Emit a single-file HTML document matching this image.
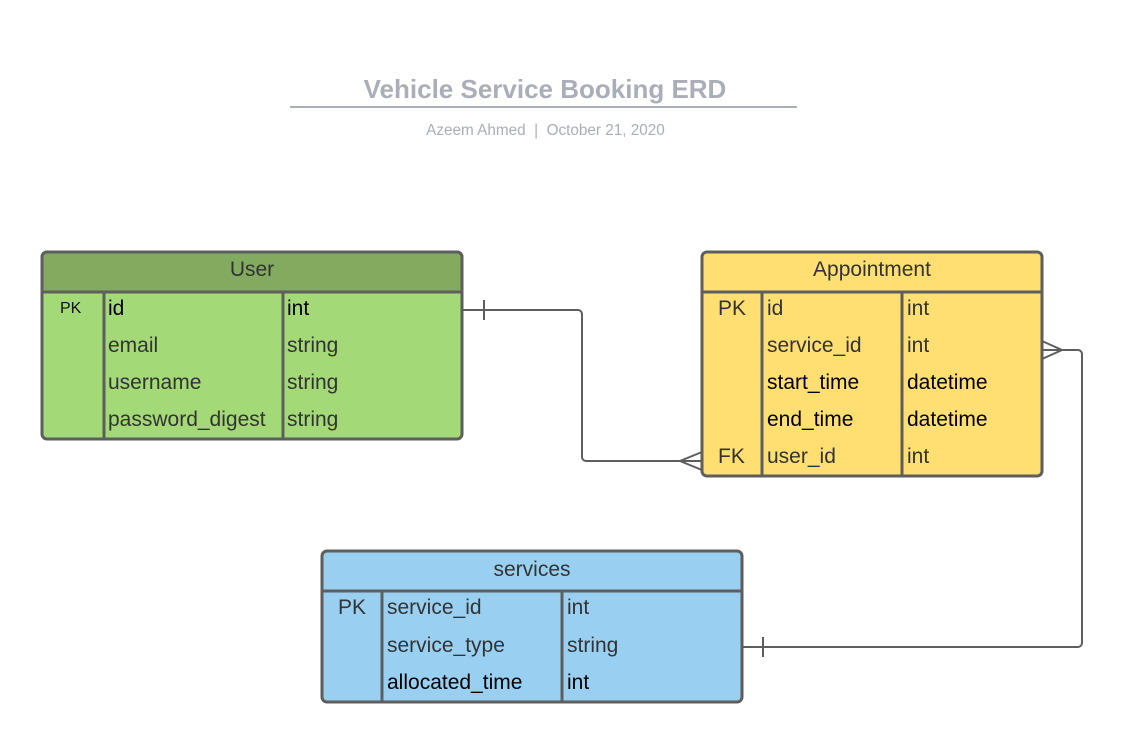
<!DOCTYPE html>
<html><head><meta charset="utf-8"><style>
body{margin:0;width:1128px;height:738px;background:#fff;position:relative;font-family:"Liberation Sans",sans-serif;overflow:hidden}
.t{position:absolute;white-space:nowrap;color:#333;font-size:21px;line-height:21px}
</style></head><body>
<div class="t" style="left:0;width:1090px;text-align:center;top:75px;font-size:26px;line-height:28px;font-weight:bold;color:#a9aeb8">Vehicle Service Booking ERD</div>
<div style="position:absolute;left:290px;top:106px;width:507px;height:2px;background:#a9aeb8"></div>
<div class="t" style="left:0;width:1091px;text-align:center;top:122px;font-size:15.3px;line-height:17px;color:#a9aeb8">Azeem Ahmed &nbsp;|&nbsp; October 21, 2020</div>
<svg width="1128" height="738" style="position:absolute;left:0;top:0">
<g stroke="#5e5e5e" stroke-width="3">
<rect x="42" y="252" width="420" height="187" rx="5" fill="#a3d977"/>
<path d="M42 292V257a5 5 0 0 1 5-5h410a5 5 0 0 1 5 5v35z" fill="#82ab60"/>
<line x1="104" y1="292" x2="104" y2="439"/><line x1="283" y1="292" x2="283" y2="439"/>
<rect x="702" y="252" width="340" height="224" rx="5" fill="#ffdf71"/>
<line x1="702" y1="292" x2="1042" y2="292"/>
<line x1="762" y1="292" x2="762" y2="476"/><line x1="902" y1="292" x2="902" y2="476"/>
<rect x="322" y="551" width="420" height="151" rx="5" fill="#99d0f2"/>
<line x1="322" y1="591" x2="742" y2="591"/>
<line x1="382" y1="591" x2="382" y2="702"/><line x1="562" y1="591" x2="562" y2="702"/>
</g>
<g stroke="#5e5e5e" stroke-width="2" fill="none">
<path d="M463 310H578a4 4 0 0 1 4 4V457a4 4 0 0 0 4 4H701"/>
<line x1="484" y1="300" x2="484" y2="320"/>
<path d="M702 452L680 461L702 470"/>
<path d="M1043 350H1078a4 4 0 0 1 4 4V643a4 4 0 0 1-4 4H743"/>
<line x1="763" y1="637" x2="763" y2="657"/>
<path d="M1042 341L1062 350L1042 359"/>
</g>
</svg>
<div class="t" style="left:42px;width:420px;text-align:center;top:259px">User</div>
<div class="t" style="left:60px;top:300px;font-size:16px;line-height:18px;color:#111">PK</div>
<div class="t" style="left:108px;top:298px;color:#000">id</div><div class="t" style="left:287px;top:298px;color:#000">int</div>
<div class="t" style="left:108px;top:335px">email</div><div class="t" style="left:287px;top:335px">string</div>
<div class="t" style="left:108px;top:372px">username</div><div class="t" style="left:287px;top:372px">string</div>
<div class="t" style="left:108px;top:409px">password_digest</div><div class="t" style="left:287px;top:409px">string</div>

<div class="t" style="left:702px;width:340px;text-align:center;top:259px">Appointment</div>
<div class="t" style="left:718px;top:298px">PK</div>
<div class="t" style="left:767px;top:298px">id</div><div class="t" style="left:907px;top:298px">int</div>
<div class="t" style="left:767px;top:335px">service_id</div><div class="t" style="left:907px;top:335px">int</div>
<div class="t" style="left:767px;top:372px;color:#000">start_time</div><div class="t" style="left:907px;top:372px;color:#000">datetime</div>
<div class="t" style="left:767px;top:409px;color:#000">end_time</div><div class="t" style="left:907px;top:409px;color:#000">datetime</div>
<div class="t" style="left:718px;top:446px">FK</div>
<div class="t" style="left:767px;top:446px">user_id</div><div class="t" style="left:907px;top:446px">int</div>

<div class="t" style="left:322px;width:420px;text-align:center;top:559px">services</div>
<div class="t" style="left:338px;top:597px">PK</div>
<div class="t" style="left:387px;top:597px">service_id</div><div class="t" style="left:567px;top:597px">int</div>
<div class="t" style="left:387px;top:635px">service_type</div><div class="t" style="left:567px;top:635px">string</div>
<div class="t" style="left:387px;top:672px;color:#000">allocated_time</div><div class="t" style="left:567px;top:672px;color:#000">int</div>
</body></html>
